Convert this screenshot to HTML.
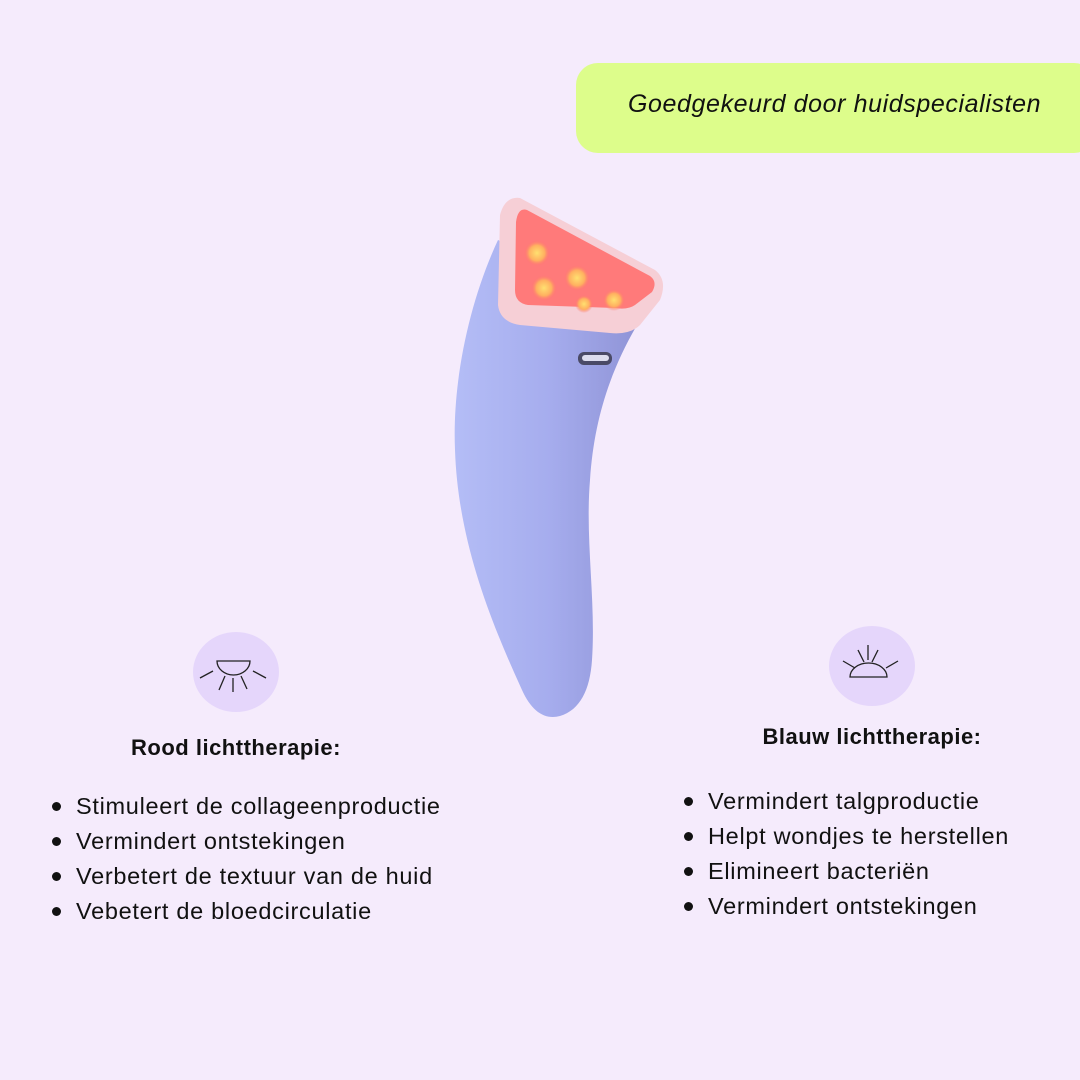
<!DOCTYPE html>
<html><head><meta charset="utf-8"><style>
body{margin:0;width:1080px;height:1080px;background:#f5ebfc;position:relative;overflow:hidden;font-family:"Liberation Sans",sans-serif;color:#111}
.banner{position:absolute;left:576px;top:63px;width:520px;height:90px;background:#ddfd8b;border-radius:22px;}
.banner span{position:absolute;left:52px;top:27px;font-style:italic;font-size:25px;letter-spacing:0.6px;white-space:nowrap}
.circ{position:absolute;width:86px;height:80px;border-radius:50%;background:#e5d6fb}
h2{position:absolute;margin:0;font-size:22px;letter-spacing:0.5px;font-weight:bold;white-space:nowrap;transform:translateX(-50%)}
ul{position:absolute;margin:0;padding:0;list-style:none;font-size:23.5px;letter-spacing:0.7px}
li{height:35px;line-height:35px;position:relative;padding-left:24px;white-space:nowrap}
li:before{content:"";position:absolute;left:0;top:13px;width:9px;height:9px;border-radius:50%;background:#111}
</style></head><body>
<div class="banner"><span>Goedgekeurd door huidspecialisten</span></div>

<svg width="1080" height="1080" style="position:absolute;left:0;top:0">
<defs>
<linearGradient id="bd" x1="0" x2="1" y1="0" y2="0">
<stop offset="0" stop-color="#b4bdf6"/><stop offset="0.5" stop-color="#a6adee"/><stop offset="1" stop-color="#8f93d6"/></linearGradient>
<radialGradient id="led"><stop offset="0" stop-color="#ffe070"/><stop offset="0.6" stop-color="#ffb060"/><stop offset="1" stop-color="#ff7070" stop-opacity="0"/></radialGradient>
</defs>
<path d="M498,240 C470,300 452,380 455,450 C458,540 490,620 522,690 C532,712 545,720 560,716 C580,710 590,690 592,660 C596,600 585,540 590,480 C594,420 610,370 640,320 L620,300 Z" fill="url(#bd)"/>
<path d="M520,198 L655,270 Q668,280 660,300 L640,325 Q630,335 610,333 L520,325 Q500,322 498,305 L500,215 Q505,196 520,198 Z" fill="#f6cfd6"/>
<path d="M527,210 L650,276 Q658,282 652,292 L635,305 Q628,310 615,308 L528,305 Q515,303 515,290 L516,222 Q518,207 527,210 Z" fill="#ff7a7a"/>
<g>
<circle cx="537" cy="253" r="13" fill="url(#led)"/><circle cx="577" cy="278" r="13" fill="url(#led)"/>
<circle cx="544" cy="288" r="13" fill="url(#led)"/><circle cx="614" cy="300" r="11" fill="url(#led)"/><circle cx="584" cy="304" r="9" fill="url(#led)"/>
</g>
<rect x="578" y="352" width="34" height="13" rx="6" fill="#4a4a66"/>
<rect x="582" y="355" width="27" height="6" rx="3" fill="#ddddee"/>
</svg>

<div class="circ" style="left:193px;top:632px"></div>
<div class="circ" style="left:829px;top:626px"></div>
<svg width="1080" height="1080" style="position:absolute;left:0;top:0" fill="none" stroke="#222" stroke-width="1.3">
<path d="M217,661 L250,661 A16.5,14 0 0 1 217,661 Z"/>
<line x1="233" y1="678" x2="233" y2="692"/><line x1="225" y1="676" x2="219" y2="690"/><line x1="241" y1="676" x2="247" y2="689"/>
<line x1="213" y1="671" x2="200" y2="678"/><line x1="253" y1="671" x2="266" y2="678"/>
<path d="M850,677 L887,677 A18.5,14 0 0 0 850,677 Z"/>
<line x1="868" y1="645" x2="868" y2="660"/><line x1="858" y1="650" x2="864" y2="662"/><line x1="878" y1="650" x2="872" y2="662"/>
<line x1="843" y1="661" x2="855" y2="668"/><line x1="898" y1="661" x2="886" y2="668"/>
</svg>

<h2 style="left:236px;top:735px">Rood lichttherapie:</h2>
<h2 style="left:872px;top:724px">Blauw lichttherapie:</h2>

<ul style="left:52px;top:789px">
<li>Stimuleert de collageenproductie</li>
<li>Vermindert ontstekingen</li>
<li>Verbetert de textuur van de huid</li>
<li>Vebetert de bloedcirculatie</li>
</ul>
<ul style="left:684px;top:784px">
<li>Vermindert talgproductie</li>
<li>Helpt wondjes te herstellen</li>
<li>Elimineert bacteriën</li>
<li>Vermindert ontstekingen</li>
</ul>
</body></html>
